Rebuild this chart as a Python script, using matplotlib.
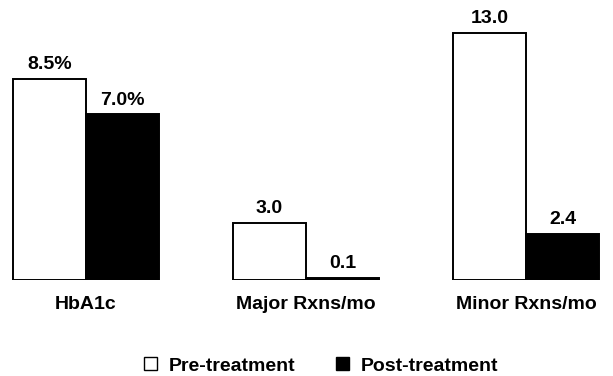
import matplotlib
matplotlib.use("Agg")
import matplotlib.pyplot as plt
from matplotlib.patches import Patch
import numpy as np

plt.rcParams['font.family'] = ['Liberation Sans', 'DejaVu Sans']

# outcome groups and pre/post values
groups = ['HbA1c', 'Major Rxns/mo', 'Minor Rxns/mo']
pre_hba1c, post_hba1c = 8.5, 7.0
pre_rxns = [3.0, 13.0]
post_rxns = [0.1, 2.4]
series_names = ['Pre-treatment', 'Post-treatment']

W, H = 613, 376
fig = plt.figure(figsize=(W / 100, H / 100), dpi=100)

# axes spans the whole width; baseline sits ~96 px above the bottom
base = 96.5
ax_h = 260
ax = fig.add_axes([0, base / H, 1, ax_h / H])
ax2 = ax.twinx()   # HbA1c has its own scale

bw = 0.332
x = np.arange(len(groups))
ax.set_xlim(-86 / 220, (W - 86) / 220)
ax.set_ylim(0, ax_h / 19.0)
ax2.set_ylim(0, ax_h / 23.6)

bar_kw = dict(width=bw, edgecolor='black', linewidth=1.4, align='edge')

b1 = ax2.bar(x[0] - bw, pre_hba1c, color='white', **bar_kw)
b2 = ax2.bar(x[0], post_hba1c, color='black', **bar_kw)
b3 = ax.bar(x[1:] - bw, pre_rxns, color='white', **bar_kw)
b4 = ax.bar(x[1:], post_rxns, color='black', **bar_kw)

lab_kw = dict(padding=4, fontsize=14, fontweight='bold')
ax2.bar_label(b1, fmt='%.1f%%', **lab_kw)
ax2.bar_label(b2, fmt='%.1f%%', **lab_kw)
ax.bar_label(b3, fmt='%.1f', **lab_kw)
ax.bar_label(b4, fmt='%.1f', **lab_kw)

ax.set_xticks(x)
ax.set_xticklabels(groups, fontsize=14, fontweight='bold')
ax.tick_params(axis='x', length=0, pad=12)
ax.set_yticks([])
ax2.set_yticks([])
for a in (ax, ax2):
    for s in a.spines.values():
        s.set_visible(False)
    a.patch.set_visible(False)

handles = [Patch(facecolor='white', edgecolor='black', linewidth=1.0),
           Patch(facecolor='black', edgecolor='black')]
fig.legend(handles, series_names, loc='center', ncol=2, frameon=False,
           bbox_to_anchor=(321 / W, 10 / H),
           prop=dict(size=14, weight='bold'),
           handlelength=0.65, handleheight=0.65, handletextpad=0.6,
           columnspacing=2.1)

fig.savefig('out.png', dpi=100, facecolor='white')
